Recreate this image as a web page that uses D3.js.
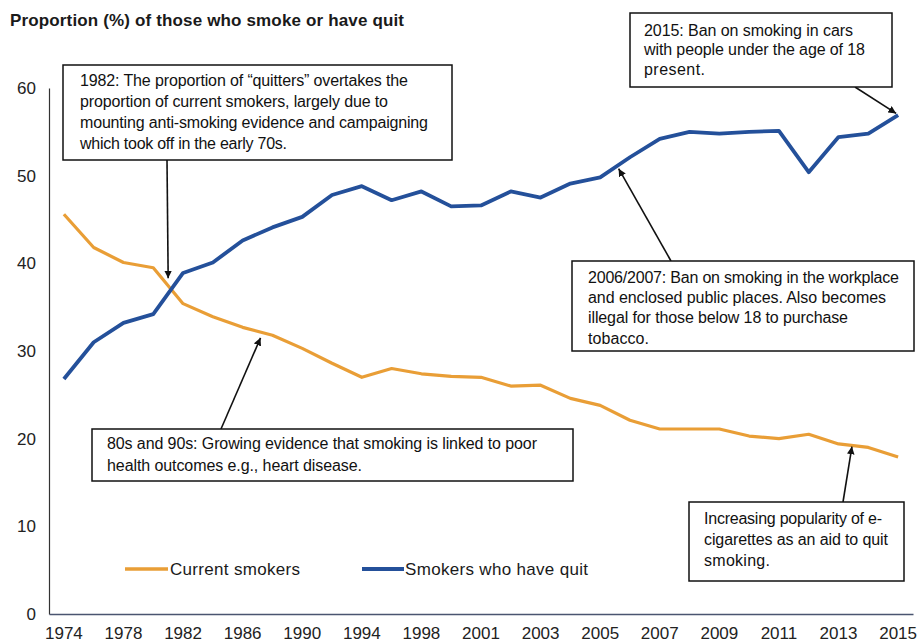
<!DOCTYPE html>
<html>
<head>
<meta charset="utf-8">
<script src="https://cdn.jsdelivr.net/npm/d3@7"></script>
<style>
  html, body { margin: 0; padding: 0; background: #fff; }
  svg { display: block; font-family: "Liberation Sans", Arial, sans-serif; }
</style>
</head>
<body>
<svg id="chart" width="920" height="643"></svg>
<script>
// ---- Data ----
const years = ["1974","1976","1978","1980","1982","1984","1986","1988","1990","1992","1994","1996","1998","2000",
  "2001","2002","2003","2004","2005","2006","2007","2008","2009","2010","2011","2012","2013","2014","2015"];
const currentSmokers = [45.6, 41.8, 40.1, 39.5, 35.4, 33.9, 32.7, 31.8, 30.3, 28.6, 27.0, 28.0, 27.4, 27.1,
  27.0, 26.0, 26.1, 24.6, 23.8, 22.1, 21.1, 21.1, 21.1, 20.3, 20.0, 20.5, 19.4, 19.0, 17.9];
const quitSmokers = [26.8, 31.0, 33.2, 34.2, 38.9, 40.1, 42.6, 44.1, 45.3, 47.8, 48.8, 47.2, 48.2, 46.5,
  46.6, 48.2, 47.5, 49.1, 49.8, 52.1, 54.2, 55.0, 54.8, 55.0, 55.1, 50.4, 54.4, 54.8, 56.9];
const xTickLabels = ["1974","1978","1982","1986","1990","1994","1998","2001","2003","2005","2007","2009","2011","2013","2015"];
const yTicks = [0, 10, 20, 30, 40, 50, 60];
const seriesNames = ["Current smokers", "Smokers who have quit"];
const titleText = "Proportion (%) of those who smoke or have quit";

// ---- Layout ----
const svg = d3.select("#chart");
const plot = { left: 49, right: 913, top: 88, bottom: 614 };
const colors = { current: "#E99E36", quit: "#24509A" };

const x = d3.scaleBand().domain(years).range([plot.left, plot.right]).padding(0);
const y = d3.scaleLinear().domain([0, 60]).range([plot.bottom, plot.top]);
const cx = d => x(d) + x.bandwidth() / 2;
// fractional position between categories
const cxf = (a, b, t) => cx(a) + (cx(b) - cx(a)) * t;

// Title
svg.append("text")
  .attr("x", 10).attr("y", 26)
  .attr("font-size", 17).attr("font-weight", "bold").attr("fill", "#1a1a1a")
  .attr("textLength", 394).attr("lengthAdjust", "spacing")
  .text(titleText);

// Axes
const yAxis = d3.axisLeft(y).tickValues(yTicks).tickSize(0).tickPadding(13);
const gy = svg.append("g").attr("transform", `translate(${plot.left},0)`).call(yAxis);
gy.select(".domain").attr("stroke", "#333").attr("stroke-width", 1.2);
gy.selectAll("text").attr("font-size", 17).attr("fill", "#222").attr("font-family", "Liberation Sans, Arial, sans-serif");

const xAxis = d3.axisBottom(x).tickValues(xTickLabels).tickSize(0).tickPadding(13);
const gx = svg.append("g").attr("transform", `translate(0,${plot.bottom})`).call(xAxis);
gx.select(".domain").attr("stroke", "#4a5570").attr("stroke-width", 1.5);
gx.selectAll("text").attr("font-size", 17).attr("fill", "#222").attr("font-family", "Liberation Sans, Arial, sans-serif");

// Lines
const line = d3.line().x((d, i) => cx(years[i])).y(d => y(d));
svg.append("path").datum(currentSmokers)
  .attr("fill", "none").attr("stroke", colors.current).attr("stroke-width", 3.2)
  .attr("stroke-linejoin", "round").attr("d", line);
svg.append("path").datum(quitSmokers)
  .attr("fill", "none").attr("stroke", colors.quit).attr("stroke-width", 3.8)
  .attr("stroke-linejoin", "round").attr("d", line);

// Legend
const legend = [
  { name: seriesNames[0], color: colors.current, x1: 125, x2: 168, tx: 170, tw: 130, w: 3.5 },
  { name: seriesNames[1], color: colors.quit, x1: 362, x2: 404, tx: 405, tw: 183, w: 4 }
];
const ly = 569;
legend.forEach(l => {
  svg.append("line").attr("x1", l.x1).attr("x2", l.x2).attr("y1", ly).attr("y2", ly)
    .attr("stroke", l.color).attr("stroke-width", l.w);
  svg.append("text").attr("x", l.tx).attr("y", ly + 6)
    .attr("font-size", 17).attr("fill", "#1a1a1a")
    .attr("textLength", l.tw).attr("lengthAdjust", "spacing")
    .text(l.name);
});

// Arrowhead marker
svg.append("defs").append("marker")
  .attr("id", "arrow").attr("viewBox", "0 0 10 10")
  .attr("refX", 10).attr("refY", 5)
  .attr("markerWidth", 4.8).attr("markerHeight", 4.8)
  .attr("markerUnits", "strokeWidth")
  .attr("orient", "auto")
  .append("path").attr("d", "M0,0 L10,5 L0,10 Z").attr("fill", "#111");

// Annotations
const annotations = [
  { box: [63, 65, 389, 95], tx: 80, ty: [86, 107, 128, 149],
    lines: ["1982: The proportion of \u201cquitters\u201d overtakes the", "proportion of current smokers, largely due to",
            "mounting anti-smoking evidence and campaigning", "which took off in the early 70s."],
    widths: [328, 308, 348, 207],
    from: [167, 160], to: [cxf("1980", "1982", 0.5), y(38.3)] },
  { box: [630, 13, 262, 74], tx: 644, ty: [36, 55, 75],
    lines: ["2015: Ban on smoking in cars", "with people under the age of 18", "present."],
    widths: [209, 221, 61],
    from: [855, 87], to: [cx("2015") - 2, y(57.1)] },
  { box: [572, 261, 342, 90], tx: 588, ty: [283, 303, 323, 344],
    lines: ["2006/2007: Ban on smoking in the workplace", "and enclosed public places. Also becomes",
            "illegal for those below 18 to purchase", "tobacco."],
    widths: [311, 298, 260, 61],
    from: [671, 261], to: [cxf("2005", "2006", 0.62), y(50.8)] },
  { box: [92, 429, 481, 52], tx: 107, ty: [449, 471],
    lines: ["80s and 90s: Growing evidence that smoking is linked to poor", "health outcomes e.g., heart disease."],
    widths: [430, 255],
    from: [221, 429], to: [cxf("1986", "1988", 0.6), y(31.5)] },
  { box: [689, 502, 215, 79], tx: 704, ty: [524, 545, 566],
    lines: ["Increasing popularity of e-", "cigarettes as an aid to quit", "smoking."],
    widths: [178, 184, 66],
    from: [843, 502], to: [cxf("2013", "2014", 0.45), y(19.1)] }
];

annotations.forEach(a => {
  svg.append("line")
    .attr("x1", a.from[0]).attr("y1", a.from[1]).attr("x2", a.to[0]).attr("y2", a.to[1])
    .attr("stroke", "#111").attr("stroke-width", 1.6).attr("marker-end", "url(#arrow)");
  svg.append("rect")
    .attr("x", a.box[0]).attr("y", a.box[1]).attr("width", a.box[2]).attr("height", a.box[3])
    .attr("fill", "#fff").attr("stroke", "#111").attr("stroke-width", 1.5);
  a.lines.forEach((t, i) => {
    svg.append("text").attr("x", a.tx).attr("y", a.ty[i])
      .attr("font-size", 16).attr("fill", "#111")
      .attr("textLength", a.widths[i]).attr("lengthAdjust", "spacing")
      .text(t);
  });
});
</script>
</body>
</html>
